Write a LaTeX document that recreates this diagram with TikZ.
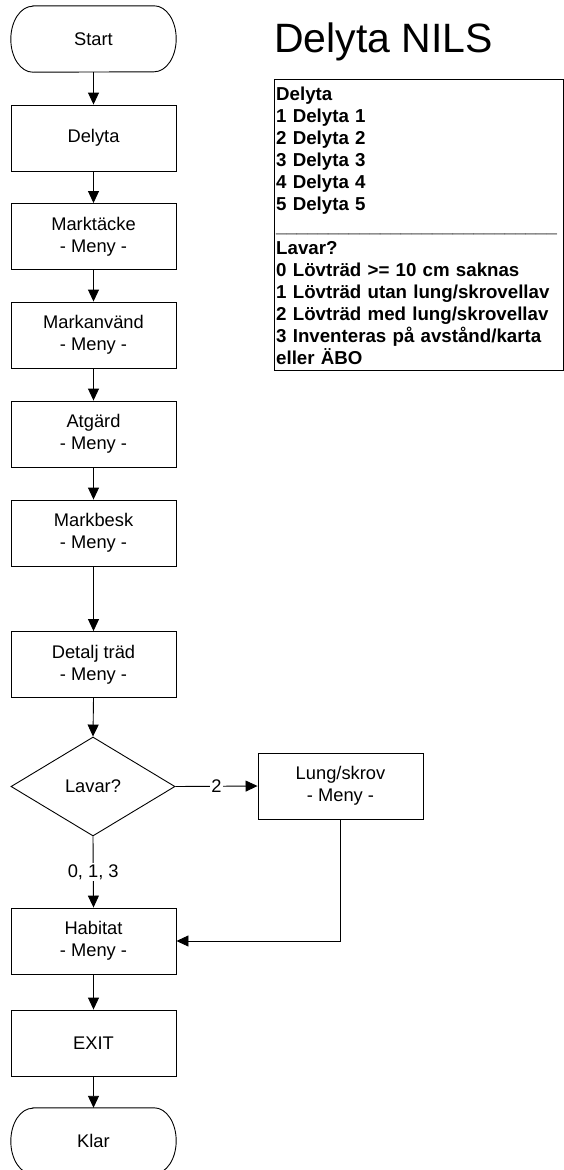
\documentclass[tikz,border=0pt]{standalone}
\usepackage{fontspec}
\setmainfont{Liberation Sans}
\usetikzlibrary{shapes.geometric,arrows.meta,calc}
\begin{document}
\begin{tikzpicture}[x=1pt,y=1pt,
  lin/.style={line width=0.9pt,draw=black},
  flow/.style={lin,-{Triangle[length=12pt,width=11pt]}},
  nfont/.style={font=\fontsize{18.3pt}{21.6pt}\selectfont},
  procbox/.style={lin,rectangle,minimum width=165pt,minimum height=66pt,inner sep=0pt,align=center,nfont},
  termbox/.style={rectangle,minimum width=165pt,minimum height=66pt,inner sep=0pt,align=center,nfont},
  decbox/.style={lin,diamond,minimum width=164pt,minimum height=99pt,inner sep=0pt,align=center,nfont},
  lbl/.style={fill=white,inner sep=1pt,nfont}]
\useasboundingbox (0,0) rectangle (563,-1170);
\newcommand\termshape[1]{%
  \draw[lin] ($(#1.north west)+(22pt,0)$) -- ($(#1.north east)+(-22pt,0)$)
    arc[start angle=90,end angle=-90,x radius=22pt,y radius=33pt]
    -- ($(#1.south west)+(22pt,0)$)
    arc[start angle=270,end angle=90,x radius=22pt,y radius=33pt] -- cycle;}

\node[termbox] (start) at (93.5,-39) {Start};
\termshape{start}
\node[procbox] (delyta) at (93.5,-138) {Delyta};
\node[procbox] (marktacke) at (93.5,-236.5) {Marktäcke\\- Meny -};
\node[procbox] (markanvand) at (93.5,-335) {Markanvänd\\- Meny -};
\node[procbox] (atgard) at (93.5,-434) {Atgärd\\- Meny -};
\node[procbox] (markbesk) at (93.5,-533) {Markbesk\\- Meny -};
\node[procbox] (detalj) at (93.5,-664.5) {Detalj träd\\- Meny -};
\node[decbox] (lavar) at (93,-786.5) {Lavar?};
\node[procbox] (lung) at (340.5,-786) {Lung/skrov\\- Meny -};
\node[procbox] (habitat) at (93.5,-941) {Habitat\\- Meny -};
\node[procbox] (exit) at (93.5,-1043) {EXIT};
\node[termbox] (klar) at (93.5,-1141) {Klar};
\termshape{klar}

\draw[flow] (start.south) -- (delyta.north);
\draw[flow] (delyta.south) -- (marktacke.north);
\draw[flow] (marktacke.south) -- (markanvand.north);
\draw[flow] (markanvand.south) -- (atgard.north);
\draw[flow] (atgard.south) -- (markbesk.north);
\draw[flow] (markbesk.south) -- (detalj.north);
\draw[flow] (detalj.south) -- (lavar.north);
\draw[flow] (lavar.east) -- node[lbl] {2} (lung.west);
\draw[flow] (lavar.south) -- node[lbl] {0, 1, 3} (habitat.north);
\draw[flow] (lung.south) |- (habitat.east);
\draw[flow] (habitat.south) -- (exit.north);
\draw[flow] (exit.south) -- (klar.north);

\node[anchor=base west,inner sep=0pt,font=\fontsize{41pt}{48pt}\selectfont] (title) at (274,-52) {Delyta NILS};

\node[lin,rectangle,anchor=north west,minimum width=288.5pt,minimum height=291pt,inner sep=0pt] (legend) at (274,-79) {};
\node[anchor=base west,inner sep=0pt,text width=285pt,align=left,font=\fontsize{18.7pt}{22pt}\selectfont\bfseries] (legtext) at (276,-100)
 {Delyta\\1 Delyta 1\\2 Delyta 2\\3 Delyta 3\\4 Delyta 4\\5 Delyta 5\\\_\_\_\_\_\_\_\_\_\_\_\_\_\_\_\_\_\_\_\_\_\_\_\_\_\_\_\\Lavar?\\0 Lövträd >= 10 cm saknas\\1 Lövträd utan lung/skrovellav\\2 Lövträd med lung/skrovellav\\3 Inventeras på avstånd/karta\\eller ÄBO};
\end{tikzpicture}
\end{document}
